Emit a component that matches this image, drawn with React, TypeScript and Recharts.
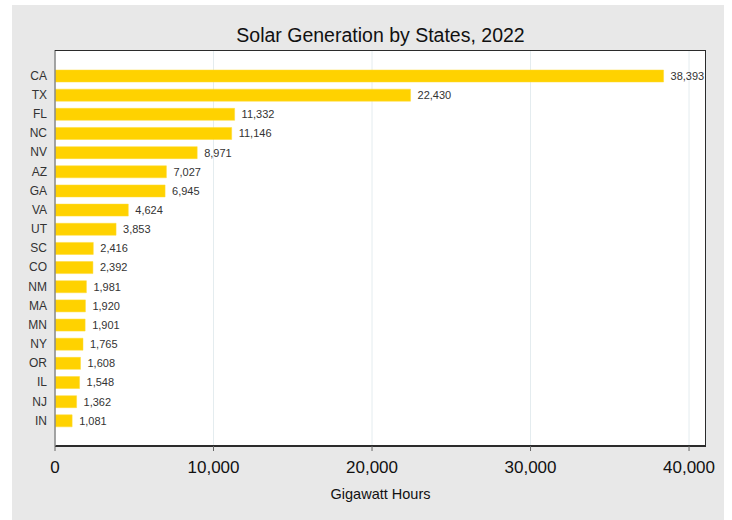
import React from 'react';
import { BarChart, Bar, XAxis, YAxis, CartesianGrid, LabelList } from 'recharts';

const states = ['CA', 'TX', 'FL', 'NC', 'NV', 'AZ', 'GA', 'VA', 'UT', 'SC', 'CO', 'NM', 'MA', 'MN', 'NY', 'OR', 'IL', 'NJ', 'IN'];
const gwh = [38393, 22430, 11332, 11146, 8971, 7027, 6945, 4624, 3853, 2416, 2392, 1981, 1920, 1901, 1765, 1608, 1548, 1362, 1081];
const xTicks = [0, 10000, 20000, 30000, 40000];
const xMax = 41070;
const title = 'Solar Generation by States, 2022';
const xLabel = 'Gigawatt Hours';

const data = states.map((s, i) => ({ state: s, value: gwh[i] }));
const FONT = '"Liberation Sans", Arial, Helvetica, sans-serif';
const fmt = (v: number) => v.toLocaleString('en-US');

const W = 732;
const H = 520;
const M = { top: 50, right: 26, bottom: 0, left: 0 };
const Y_W = 55;
const X_H = 74;

export default function App() {
  return (
    <div style={{ position: 'absolute', left: 0, top: 0, width: W, height: H, background: '#fff', fontFamily: FONT }}>
      <div style={{ position: 'absolute', left: 12, top: 5, width: 712, height: 515, background: '#e8e8e8' }} />
      <div
        style={{
          position: 'absolute',
          left: Y_W,
          top: 25,
          width: W - Y_W - M.right,
          textAlign: 'center',
          fontSize: 19.5,
          lineHeight: '20px',
          color: '#111',
          fontFamily: FONT,
        }}
      >
        {title}
      </div>
      <div style={{ position: 'absolute', left: 0, top: 0 }}>
        <BarChart width={W} height={H} data={data} layout="vertical" margin={M} barSize={12}>
          <CartesianGrid horizontal={false} vertical stroke="#e4ecef" fill="#ffffff" />
          <XAxis
            type="number"
            domain={[0, xMax]}
            ticks={xTicks}
            allowDataOverflow
            height={X_H}
            tickFormatter={fmt}
            tick={{ fontSize: 17, fill: '#111', fontFamily: FONT }}
            tickSize={5}
            tickMargin={10}
            tickLine={{ stroke: '#666' }}
            axisLine={{ stroke: '#2b2b2b', strokeWidth: 2 }}
            label={{ value: xLabel, position: 'insideBottom', offset: 21, fontSize: 14.5, fill: '#111', fontFamily: FONT }}
          />
          <YAxis
            type="category"
            dataKey="state"
            width={Y_W}
            padding={{ top: 16, bottom: 16 }}
            tick={{ fontSize: 12, fill: '#333', fontFamily: FONT }}
            tickLine={false}
            axisLine={{ stroke: '#888', strokeWidth: 1.5 }}
          />
          <Bar dataKey="value" fill="#FFD200" stroke="#FFDA33" strokeWidth={0.5} isAnimationActive={false}>
            <LabelList dataKey="value" position="right" offset={7} formatter={(v: any) => fmt(Number(v))} style={{ fontSize: 11, fill: '#333', fontFamily: FONT }} />
          </Bar>
        </BarChart>
      </div>
      <div
        style={{
          position: 'absolute',
          left: Y_W,
          top: M.top - 0.5,
          width: W - Y_W - M.right - 0.5,
          height: H - M.top - X_H,
          borderTop: '1px solid #2b2b2b',
          borderRight: '1px solid #2b2b2b',
          pointerEvents: 'none',
          boxSizing: 'border-box',
        }}
      />
    </div>
  );
}
